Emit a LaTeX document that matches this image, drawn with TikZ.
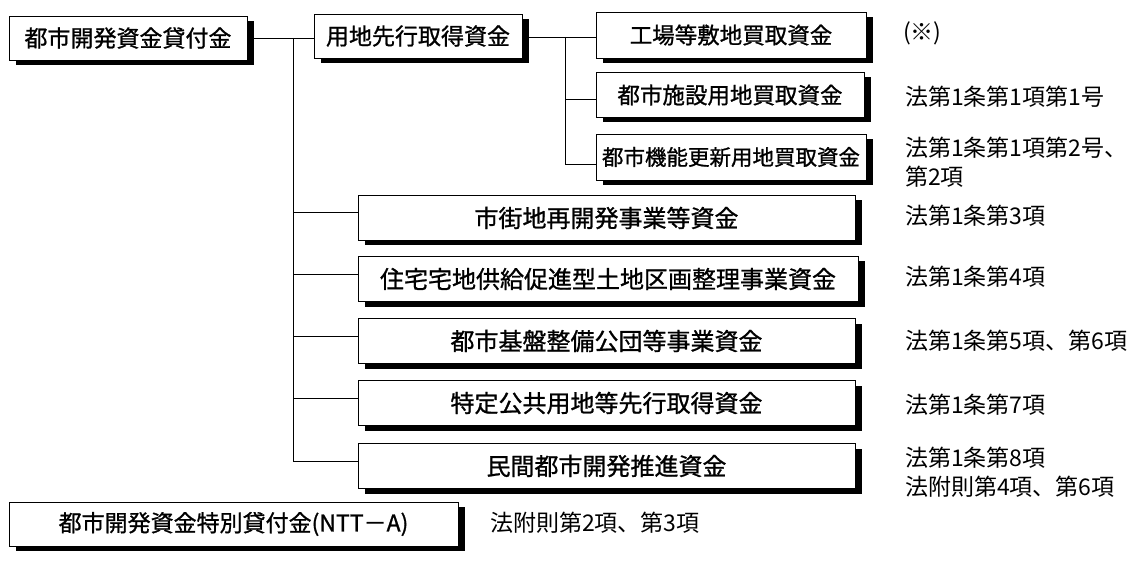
\documentclass[tikz,border=0pt]{standalone}
\usepackage{fontspec}
\usetikzlibrary{shadows}
\newfontfamily\jpbox[FakeBold=1]{Noto Sans CJK JP}
\newfontfamily\jplbl{Noto Sans CJK JP}
\tikzset{
  fbox/.style={draw, line width=0.8pt, fill=white, inner sep=0pt,
    font=\jpbox\fontsize{23}{25}\selectfont,
    drop shadow={shadow xshift=7pt, shadow yshift=-5pt, fill=black, opacity=1}},
  subbox/.style={fbox, font=\jpbox\fontsize{22.5}{24}\selectfont},
  narrowbox/.style={fbox, font=\jpbox\fontsize{21.5}{24}\selectfont},
  widebox/.style={fbox, font=\jpbox\fontsize{24}{26}\selectfont},
  lbl/.style={anchor=west, inner sep=0pt, align=left,
    font=\jplbl\fontsize{23}{29}\selectfont},
  link/.style={line width=0.9pt}
}
\begin{document}
\begin{tikzpicture}[x=1pt,y=-1pt]
\useasboundingbox[fill=white] (0,0) rectangle (1138,572);
% level 1
\node[fbox, minimum width=238, minimum height=44] (A) at (128,38) {都市開発資金貸付金};
\node[fbox, minimum width=208, minimum height=44] (B) at (418,36) {用地先行取得資金};
% level 2 under B
\node[subbox, minimum width=270, minimum height=46] (C1) at (731,35) {工場等敷地買取資金};
\node[subbox, minimum width=268, minimum height=45] (C2) at (730,95) {都市施設用地買取資金};
\node[narrowbox, minimum width=270, minimum height=46] (C3) at (731,157) {都市機能更新用地買取資金};
% lower boxes
\node[widebox, minimum width=497, minimum height=45] (D1) at (606.5,218) {市街地再開発事業等資金};
\node[widebox, minimum width=500, minimum height=45] (D2) at (608,279) {住宅宅地供給促進型土地区画整理事業資金};
\node[widebox, minimum width=497, minimum height=45] (D3) at (606.5,341) {都市基盤整備公団等事業資金};
\node[widebox, minimum width=497, minimum height=45] (D4) at (606.5,403) {特定公共用地等先行取得資金};
\node[widebox, minimum width=497, minimum height=45] (D5) at (606.5,466) {民間都市開発推進資金};
% separate box
\node[fbox, minimum width=449, minimum height=44] (E) at (233.5,524) {都市開発資金特別貸付金(NTT－A)};
% junction coordinates
\coordinate (m0) at (293,38);
\coordinate (m1) at (293,212);
\coordinate (m2) at (293,274);
\coordinate (m3) at (293,336);
\coordinate (m4) at (293,398);
\coordinate (m5) at (293,461);
\coordinate (s0) at (565,37);
\coordinate (s2) at (565,99);
\coordinate (s3) at (565,164);
% connectors
\draw[link] (A.east |- m0) -- (m0 -| B.west);
\draw[link] (m0) -- (m5);
\draw[link] (m1) -- (m1 -| D1.west);
\draw[link] (m2) -- (m2 -| D2.west);
\draw[link] (m3) -- (m3 -| D3.west);
\draw[link] (m4) -- (m4 -| D4.west);
\draw[link] (m5) -- (m5 -| D5.west);
\draw[link] (B.east |- s0) -- (s0 -| C1.west);
\draw[link] (s0) -- (s3);
\draw[link] (s2) -- (s2 -| C2.west);
\draw[link] (s3) -- (s3 -| C3.west);
% labels
\node[lbl] (L1) at (903,33) {(※)};
\node[lbl] (L2) at (905,97) {法第1条第1項第1号};
\node[lbl] (L3) at (905,162) {法第1条第1項第2号、\\第2項};
\node[lbl] (L4) at (905,216) {法第1条第3項};
\node[lbl] (L5) at (905,277) {法第1条第4項};
\node[lbl] (L6) at (905,341) {法第1条第5項、第6項};
\node[lbl] (L7) at (905,405) {法第1条第7項};
\node[lbl] (L8) at (905,472) {法第1条第8項\\法附則第4項、第6項};
\node[lbl] (L9) at (490,523) {法附則第2項、第3項};
\end{tikzpicture}
\end{document}
